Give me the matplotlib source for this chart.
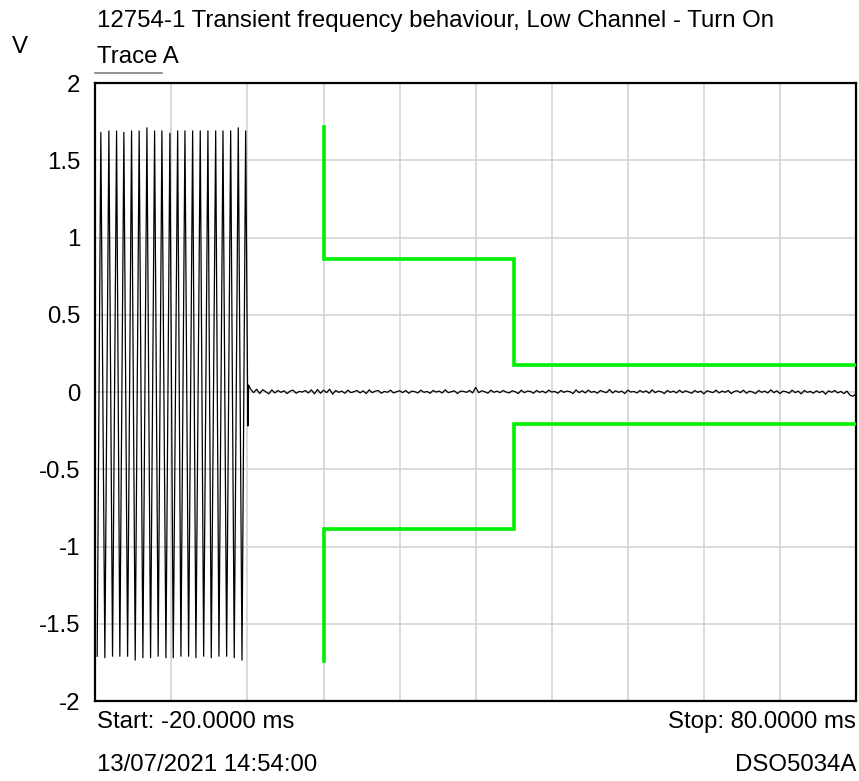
import numpy as np
import matplotlib.pyplot as plt
from matplotlib.lines import Line2D

plt.rcParams['font.family'] = ['Liberation Sans', 'DejaVu Sans']

# trace A - burst before turn on, sampled as trough / peak pairs (ms, V)
trough_t = [-19.76, -18.75, -17.74, -16.78, -15.76, -14.76, -13.75, -12.74, -11.74, -10.72,
            -9.76, -8.75, -7.74, -6.78, -5.76, -4.76, -3.75, -2.74, -1.74, -0.72]
trough_v = [-1.71, -1.72, -1.71, -1.71, -1.71, -1.735, -1.72, -1.72, -1.71, -1.72,
            -1.72, -1.71, -1.71, -1.72, -1.71, -1.72, -1.71, -1.71, -1.72, -1.735]
peak_t = [-19.28, -18.22, -17.21, -16.25, -15.24, -14.24, -13.22, -12.21, -11.25, -10.20,
          -9.18, -8.22, -7.21, -6.21, -5.20, -4.18, -3.22, -2.21, -1.21, -0.24]
peak_v = [1.68, 1.69, 1.69, 1.68, 1.69, 1.69, 1.71, 1.69, 1.69, 1.675,
          1.69, 1.69, 1.69, 1.69, 1.69, 1.69, 1.69, 1.69, 1.71, 1.69]

# switch point
step_t = [0.05, 0.15]
step_v = [-0.22, 0.045]

# residual noise after turn on, one sample every 0.4 ms from 0.4 ms
noise_v = [0.020, -0.004, 0.018, -0.010, 0.015, 0.002, -0.012, 0.014, -0.006, 0.010,
           -0.002, 0.008, -0.010, 0.006, 0.012, -0.008, 0.004, 0.000, 0.010, -0.006,
           0.014, -0.012, 0.016, -0.008, 0.012, -0.004, 0.018, -0.014, 0.010, -0.002,
           0.006, -0.008, 0.012, -0.004, 0.002, 0.010, -0.006, 0.008, -0.010, 0.014,
           -0.004, 0.006, 0.010, -0.008, 0.004, -0.002, 0.012, -0.006, 0.002, 0.008,
           -0.004, 0.010, -0.008, 0.006, 0.002, -0.006, 0.012, -0.002, 0.004, -0.008,
           0.010, 0.000, 0.006, -0.006, 0.014, -0.004, 0.002, 0.008, -0.010, 0.006,
           0.004, -0.002, 0.010, -0.006, 0.030, -0.004, 0.008, 0.002, -0.008, 0.012,
           -0.002, 0.006, -0.004, 0.010, 0.000, -0.006, 0.008, 0.002, -0.010, 0.012,
           -0.004, 0.006, 0.004, -0.008, 0.010, -0.002, 0.006, -0.006, 0.012, 0.000,
           0.004, -0.008, 0.010, -0.002, 0.006, 0.002, -0.010, 0.014, -0.004, 0.008,
           -0.006, 0.012, -0.002, 0.004, -0.008, 0.010, 0.002, -0.004, 0.016, -0.006,
           0.008, -0.002, 0.006, -0.010, 0.012, 0.000, 0.004, -0.006, 0.010, -0.002,
           0.008, -0.008, 0.014, -0.004, 0.006, 0.002, -0.010, 0.010, -0.002, 0.006,
           -0.006, 0.012, -0.004, 0.008, 0.000, -0.008, 0.010, -0.002, 0.006, -0.012,
           0.008, 0.002, -0.004, 0.012, -0.006, 0.006, -0.002, 0.010, -0.010, 0.004,
           0.008, -0.004, 0.012, -0.008, 0.006, 0.000, -0.010, 0.010, -0.002, 0.006,
           -0.006, 0.014, -0.004, 0.008, -0.010, 0.006, 0.002, -0.008, 0.012, -0.004,
           0.006, -0.012, 0.010, -0.002, 0.004, -0.008, 0.008, -0.004, 0.006, -0.014,
           0.008, -0.002, 0.010, -0.006, 0.004, -0.010, 0.006, -0.020, -0.028, -0.012]

# limit mask (green)
upper_t = [10, 10, 35, 35, 80]
upper_v = [1.715, 0.861, 0.861, 0.173, 0.173]
lower_t = [10, 10, 35, 35, 80]
lower_v = [-1.739, -0.889, -0.889, -0.207, -0.207]

yticks = [-2, -1.5, -1, -0.5, 0, 0.5, 1, 1.5, 2]
ytick_labels = ['-2', '-1.5', '-1', '-0.5', '0', '0.5', '1', '1.5', '2']

# build the trace
burst_t = []
burst_v = []
for i in range(len(trough_t)):
    burst_t += [trough_t[i], peak_t[i]]
    burst_v += [trough_v[i], peak_v[i]]
noise_t = list(np.arange(1, len(noise_v) + 1) * 0.4)
trace_t = burst_t + step_t + noise_t
trace_v = burst_v + step_v + noise_v

fs = 17.3
fig = plt.figure(figsize=(8.59, 7.81), dpi=100)
ax = fig.add_axes([0.111, 0.1024, 0.8855, 0.7913])

ax.plot(upper_t, upper_v, color='#00f000', lw=2.6, solid_joinstyle='miter', zorder=3)
ax.plot(lower_t, lower_v, color='#00f000', lw=2.6, solid_joinstyle='miter', zorder=3)
ax.plot(trace_t, trace_v, color='black', lw=0.9, zorder=4)

ax.set_xlim(-20, 80)
ax.set_ylim(-2, 2)
ax.set_xticks(np.arange(-20, 81, 10))
ax.set_xticklabels([])
ax.set_yticks(yticks)
ax.set_yticklabels(ytick_labels, fontsize=fs)
ax.tick_params(length=0, pad=11)
ax.grid(True, color='#d4d4d4', lw=1.2)
ax.set_axisbelow(True)
for s in ax.spines.values():
    s.set_linewidth(1.6)

fig.text(0.113, 0.973, '12754-1 Transient frequency behaviour, Low Channel - Turn On',
         fontsize=fs, va='center', ha='left')
fig.text(0.113, 0.927, 'Trace A', fontsize=fs, va='center', ha='left')
fig.add_artist(Line2D([0.111, 0.189], [0.907, 0.907], color='#808080', lw=1.2,
                      transform=fig.transFigure))
fig.text(0.014, 0.940, 'V', fontsize=fs, va='center', ha='left')
fig.text(0.113, 0.076, 'Start: -20.0000 ms', fontsize=fs, va='center', ha='left')
fig.text(0.113, 0.021, '13/07/2021 14:54:00', fontsize=fs, va='center', ha='left')
fig.text(0.9965, 0.076, 'Stop: 80.0000 ms', fontsize=fs, va='center', ha='right')
fig.text(0.9965, 0.021, 'DSO5034A', fontsize=fs, va='center', ha='right')

fig.savefig('out.png', dpi=100)
